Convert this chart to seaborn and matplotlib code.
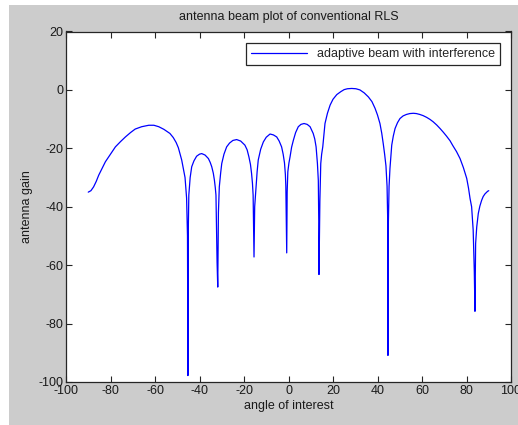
import matplotlib
matplotlib.use("Agg")
import matplotlib.pyplot as plt
import seaborn as sns
import pandas as pd
from matplotlib.patches import Rectangle

# Data
angle = [-90, -88.8, -87.6, -86.4, -85.3, -83.8, -82.3, -80, -77.8, -75.5, -73.3, -71, -68.9, -66, -62.8, -60.5, -58.3,
         -56, -53.3, -51.8, -50.5, -49.5, -48.8, -48, -47.5, -47,
         -46.5, -45.8, -45.4, -45.2, -45.0, -44.8,
         -44.2, -43.5, -42.5, -41.3, -40, -39, -37.5, -36, -35.2, -34.5, -33.8, -33.3, -32.9, -32.6,
         -32.1, -31.8, -31.5,
         -31.1, -30.5, -30, -29, -27.8, -26.5, -25, -23.3, -21.5, -19.6, -18.6, -17.8, -17.1, -16.6, -16.2, -15.9,
         -15.5, -15.2,
         -14.6, -14.1, -13.6, -12.5, -11.3, -10, -8.3, -6.8, -5.3, -4.2, -3.1, -2.4, -1.8, -1.4, -1.2,
         -0.9, -0.8, -0.6,
         -0.3, 0.2, 0.7, 1.4, 2.2, 3.2, 4.4, 5.6, 7, 8.4, 9.7, 11.1, 11.8, 12.4, 13.0, 13.4, 13.6, 13.7, 14.1,
         14.5, 14.9, 15.4, 16.4, 17.5, 18.7, 20, 21.7, 23.5, 25, 26.5, 28.4, 30.3, 32.1, 34, 35.9, 37.5, 38.9,
         40, 41.1, 41.9, 42.6, 43.2, 43.8, 44.3, 44.6,
         44.7, 44.9, 45.2,
         45.6, 46, 46.4, 47.1, 47.9, 49, 50.1, 51.5, 53, 54.5, 56.1, 57.5, 59, 60.5, 62.1, 63.6, 65, 66.6, 68.1,
         69.6, 71, 72.6, 73.8, 75.5, 77.1, 78.6, 80.1, 80.9, 81.6, 82.3,
         83.0, 83.5, 83.8, 84.1, 84.6, 85.3, 86, 86.8, 87.5, 88.3, 89.5, 90]
gain = [-35, -34.5, -33.2, -31.3, -29.2, -26.9, -24.6, -22.0, -19.5, -17.7, -16.1, -14.6, -13.4, -12.6, -12.1, -12.1, -12.6,
        -13.5, -14.9, -16.3, -18, -19.8, -21.8, -24, -26, -28,
        -30, -37, -50, -97.8, -46, -36,
        -30, -26.3, -24.3, -22.7, -22, -21.8, -22.3, -23.5, -24.8, -26.3, -28.5, -30.9, -33.5, -36,
        -59, -67.5, -42,
        -33.2, -28.5, -25.2, -22, -19.5, -18.2, -17.3, -17, -17.5, -18.9, -20.5, -22.9, -25.5, -28.6, -32, -36,
        -57.2, -40,
        -33.2, -28, -24, -20.3, -17.8, -16.2, -15.1, -15.4, -16.1, -17.5, -19.5, -22, -25, -29, -33,
        -50, -55.8, -35,
        -28, -25, -22.9, -19.6, -17.2, -14.6, -12.6, -11.8, -11.5, -11.8, -12.6, -14.9, -16.8, -19.5, -25.2, -31, -45, -63.2, -38,
        -25.2, -22, -19.5, -11.5, -8, -5.2, -3.2, -1.6, -0.6, 0.1, 0.4, 0.5, 0.4, 0.0, -1.0, -2.4, -4.0, -6.3,
        -8.6, -11.5, -14.8, -18.5, -22, -26, -33, -45,
        -90.9, -45, -33,
        -26.9, -22.8, -18.9, -15.8, -13.2, -11.2, -9.8, -8.9, -8.4, -8.1, -8, -8.1, -8.4, -8.8, -9.4, -10.1, -10.9, -12.0, -13.2,
        -14.5, -15.8, -17.4, -19.0, -21.1, -23.5, -26.6, -30.3, -33.6, -37.2, -40,
        -48, -62, -75.8, -52.6, -46.9, -42.3, -39.8, -37.8, -36.5, -35.6, -34.7, -34.5]

x_ticks = [-100, -80, -60, -40, -20, 0, 20, 40, 60, 80, 100]
y_ticks = [-100, -80, -60, -40, -20, 0, 20]

series_label = "adaptive beam with interference"
title_text = "antenna beam plot of conventional RLS"
xlabel_text = "angle of interest"
ylabel_text = "antenna gain"

sns.set_theme(style="white")
plt.rcParams["font.family"] = ["Liberation Sans", "DejaVu Sans"]
plt.rcParams["axes.unicode_minus"] = False

df = pd.DataFrame({"angle": angle, "gain": gain})

fig = plt.figure(figsize=(5.18, 4.25), dpi=100, facecolor="white")
fig.patches.append(Rectangle((9 / 518, 0), 509 / 518, 420 / 425, transform=fig.transFigure,
                             facecolor="#cccccc", edgecolor="none", zorder=-10))
ax = fig.add_axes([66 / 518, 1 - 382 / 425, 445 / 518, 350.5 / 425])
ax.set_facecolor("white")

sns.lineplot(data=df, x="angle", y="gain", ax=ax, color="#0000ff", linewidth=0.9,
             estimator=None, sort=False, label=series_label)

ax.set_xlim(-100, 100)
ax.set_ylim(-100, 20)
ax.set_xticks(x_ticks)
ax.set_yticks(y_ticks)
ax.tick_params(direction="in", length=4, width=0.8, colors="#262626", labelsize=9,
               top=True, right=True, bottom=True, left=True, pad=2,
               labelcolor="#1a1a1a")
for s in ax.spines.values():
    s.set_color("#262626")
    s.set_linewidth(0.9)
    s.set_visible(True)

ax.set_title(title_text, fontsize=9, color="#1a1a1a", pad=8)
ax.set_xlabel(xlabel_text, fontsize=9, color="#1a1a1a", labelpad=2)
ax.set_ylabel(ylabel_text, fontsize=9, color="#1a1a1a", labelpad=4)

leg = ax.legend(loc="upper right", fontsize=9, frameon=True, fancybox=False,
                edgecolor="#262626", framealpha=1, handlelength=4.5, borderpad=0.4,
                bbox_to_anchor=(0.99, 0.985))
leg.get_frame().set_linewidth(0.9)

fig.savefig("out.png", dpi=100, facecolor=fig.get_facecolor())
